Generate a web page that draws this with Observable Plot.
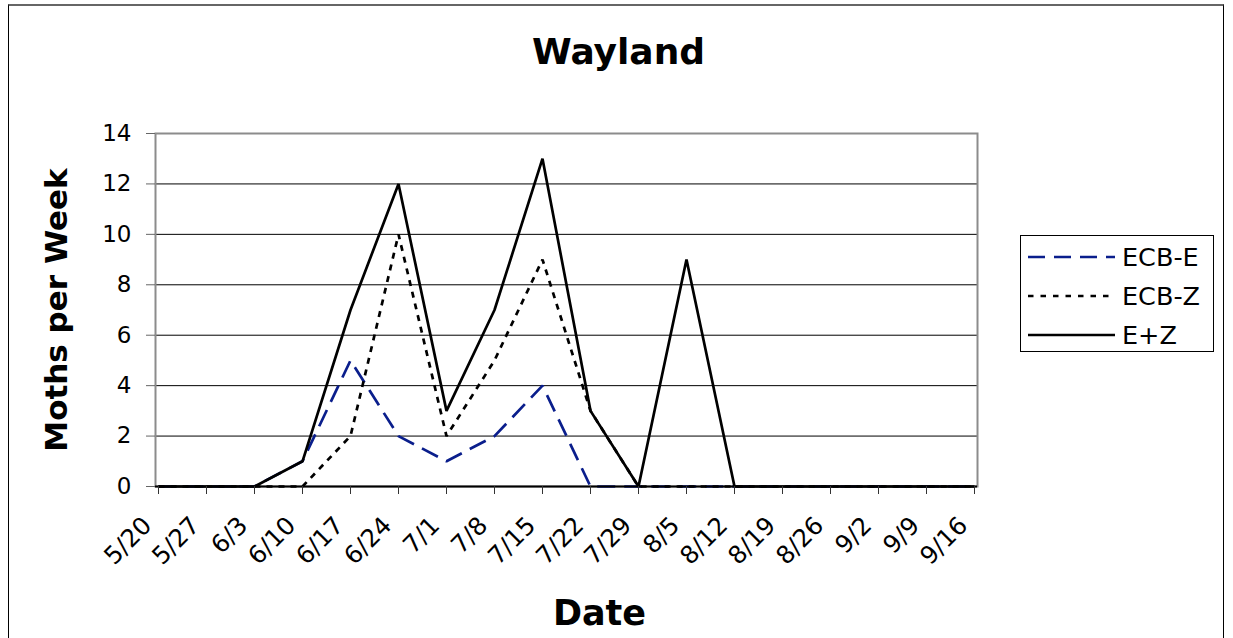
<!DOCTYPE html>
<html>
<head>
<meta charset="utf-8">
<script src="https://cdn.jsdelivr.net/npm/d3@7"></script>
<script src="https://cdn.jsdelivr.net/npm/@observablehq/plot@0.6"></script>
<style>
  html, body { margin: 0; padding: 0; background: #fff; }
  #wrap { position: relative; width: 1233px; height: 638px; overflow: hidden; font-family: "DejaVu Sans", Verdana, sans-serif; }
  #border { position: absolute; left: 8px; top: 4px; width: 1216px; height: 660px; border: 1px solid #000; border-top: 2px solid #666; box-sizing: border-box; }
  #chart { position: absolute; left: 0; top: 0; }
  #legend { position: absolute; left: 1020px; top: 235px; width: 194px; height: 117px; border: 1px solid #000; box-sizing: border-box; background: #fff; }
  .item { position: absolute; left: 7px; height: 30px; display: flex; align-items: center; font-size: 25.5px; color: #000; line-height: 30px; }
  .item svg { margin-right: 7px; display: block; }
</style>
</head>
<body>
<div id="wrap">
  <div id="border"></div>
  <div id="chart"></div>
  <div id="legend"></div>
</div>
<script>
const dates = ["5/20","5/27","6/3","6/10","6/17","6/24","7/1","7/8","7/15","7/22","7/29","8/5","8/12","8/19","8/26","9/2","9/9","9/16"];
const ecbE = [0,0,0,1,5,2,1,2,4,0,0,0,0,0,0,0,0,0];
const ecbZ = [0,0,0,0,2,10,2,5,9,3,0,0,0,0,0,0,0,0];
const eZ   = [0,0,0,1,7,12,3,7,13,3,0,9,0,0,0,0,0,0];
const yTicks = [0,2,4,6,8,10,12,14];
const seriesNames = ["ECB-E","ECB-Z","E+Z"];
const seriesValues = [ecbE, ecbZ, eZ];
const seriesColors = ["#0a1e8c","#000000","#000000"];
const seriesDash = ["18,9","6,6",null];
const legendDash = ["17,9","5.5,7",null];

const rows = [];
seriesNames.forEach((name, si) => {
  dates.forEach((d, i) => rows.push({series: name, date: d, value: seriesValues[si][i]}));
});

const lineMarks = seriesNames.map((name, si) =>
  Plot.line(rows.filter(r => r.series === name), {
    x: "date", y: "value",
    stroke: seriesColors[si], strokeWidth: 2.7,
    strokeDasharray: seriesDash[si] || undefined,
    strokeLinejoin: "miter", strokeLinecap: "butt"
  })
);

const chart = Plot.plot({
  width: 1233, height: 638,
  marginTop: 133, marginBottom: 152, marginLeft: 155, marginRight: 256,
  style: {fontFamily: "DejaVu Sans, Verdana, sans-serif", color: "#000", background: "transparent"},
  x: {type: "point", domain: dates, padding: 0, inset: 0},
  y: {domain: [0, 14]},
  marks: [
    Plot.ruleY(yTicks.filter(t => t > 0 && t < 14), {stroke: "#000", strokeWidth: 1}),
    Plot.frame({stroke: "#8c8c8c", strokeWidth: 2}),
    ...lineMarks,
    Plot.ruleY([0], {stroke: "#000", strokeWidth: 2}),
    Plot.axisY({ticks: yTicks, tickSize: 9, tickPadding: 15, fontSize: 23, stroke: "#666", label: null}),
    Plot.axisX({ticks: dates, tickSize: 8, text: null, stroke: "#333", label: null}),
    Plot.axisX({ticks: dates, tickSize: 0, tickPadding: 35, tickRotate: -45, fontSize: 24.5, label: null, dx: -11}),
    Plot.text(["Wayland"], {frameAnchor: "top", textAnchor: "middle", dx: 52, dy: -81.5, fontSize: 36, fontWeight: "bold", lineAnchor: "middle", text: d => d}),
    Plot.text(["Moths per Week"], {frameAnchor: "left", textAnchor: "middle", dx: -98, rotate: -90, fontSize: 31, fontWeight: "bold", lineAnchor: "middle", text: d => d}),
    Plot.text(["Date"], {frameAnchor: "bottom", textAnchor: "middle", dx: 33, dy: 127, fontSize: 35, fontWeight: "bold", lineAnchor: "middle", text: d => d})
  ]
});
document.getElementById("chart").appendChild(chart);

const legend = document.getElementById("legend");
seriesNames.forEach((name, si) => {
  const item = document.createElement("div");
  item.className = "item";
  item.style.top = (6 + si * 39) + "px";
  const dash = legendDash[si] ? `stroke-dasharray="${legendDash[si]}"` : "";
  item.innerHTML = `<svg width="87" height="10"><line x1="0" y1="5" x2="87" y2="5" stroke="${seriesColors[si]}" stroke-width="2.7" ${dash}/></svg><span>${name}</span>`;
  legend.appendChild(item);
});
</script>
</body>
</html>
